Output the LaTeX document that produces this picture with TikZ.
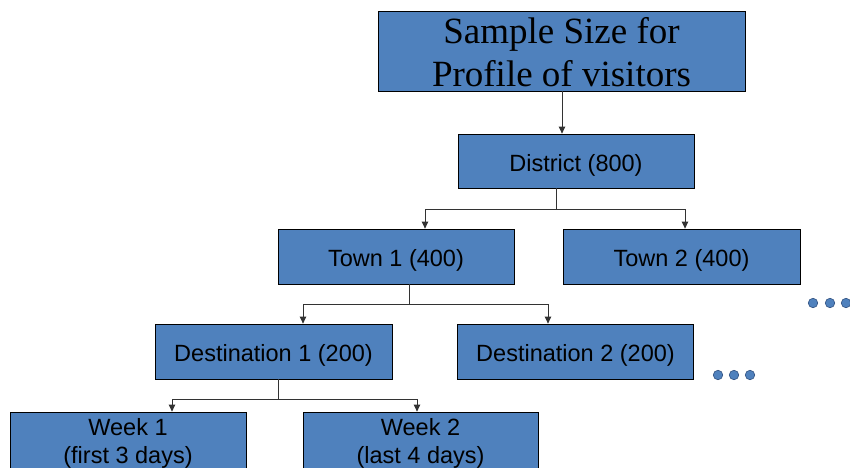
\documentclass[tikz,border=0pt]{standalone}
\usepackage{fontspec}
\setmainfont{Liberation Sans}
\newfontfamily\titlefont{Liberation Serif}
\usetikzlibrary{arrows.meta}
\definecolor{boxblue}{HTML}{4F81BD}
\definecolor{dotedge}{HTML}{2F4F7F}
\tikzset{
  box/.style={draw=black, line width=0.8pt, fill=boxblue, inner sep=0pt,
    align=center, font=\fontsize{23.5}{27.5}\selectfont},
  onebox/.style={box, text height=20pt, text depth=0pt},
  titlebox/.style={box, font=\titlefont\fontsize{37}{43}\selectfont},
  conn/.style={draw=black!80, line width=0.9pt},
  arr/.style={conn, -{Triangle[length=7pt,width=6.5pt]}},
  dot/.style={circle, fill=boxblue, draw=dotedge, line width=0.6pt, minimum size=9.5pt, inner sep=0pt},
  wtext/.style={anchor=base, font=\fontsize{23.5}{27.5}\selectfont}
}
\begin{document}
\begin{tikzpicture}[x=1pt,y=-1pt]
\useasboundingbox (0,0) rectangle (850,467);
\clip (0,0) rectangle (850,467);
\node[titlebox, minimum width=367pt, minimum height=80pt] (title) at (561.5,51) {\rule{0pt}{29pt}Sample Size for\\Profile of visitors};
\node[onebox, minimum width=236pt, minimum height=54pt] (district) at (576,161) {District (800)};
\node[onebox, minimum width=236pt, minimum height=55pt] (town1) at (396,256.5) {Town 1 (400)};
\node[onebox, minimum width=237pt, minimum height=55pt] (town2) at (681.5,256.5) {Town 2 (400)};
\node[onebox, minimum width=237pt, minimum height=55pt] (dest1) at (273.5,351.5) {Destination 1 (200)};
\node[onebox, minimum width=236pt, minimum height=55pt] (dest2) at (575.5,351.5) {Destination 2 (200)};
\node[box, minimum width=236pt, minimum height=70pt] (week1) at (128,447) {};
\node[box, minimum width=235pt, minimum height=70pt] (week2) at (420.5,447) {};
\node[wtext] (w1a) at (128,435) {Week 1};
\node[wtext] (w1b) at (128,463) {(first 3 days)};
\node[wtext] (w2a) at (420.5,435) {Week 2};
\node[wtext] (w2b) at (420.5,463) {(last 4 days)};
% junctions
\coordinate (j1) at (556,209);
\coordinate (j2) at (409,304);
\coordinate (j3) at (278,399);
\draw[arr] (title.south -| 562,0) -- (district.north -| 562,0);
\draw[conn] (district.south -| j1) -- (j1);
\draw[arr] (j1) -| (town1.north -| 425,0);
\draw[arr] (j1) -| (town2.north -| 685,0);
\draw[conn] (town1.south -| j2) -- (j2);
\draw[arr] (j2) -| (dest1.north -| 303,0);
\draw[arr] (j2) -| (dest2.north -| 548,0);
\draw[conn] (dest1.south -| j3) -- (j3);
\draw[arr] (j3) -| (week1.north -| 172,0);
\draw[arr] (j3) -| (week2.north -| 417,0);
% ellipses
\node[dot] (d1) at (813,303) {};
\node[dot] (d2) at (830,303) {};
\node[dot] (d3) at (846,303) {};
\node[dot] (e1) at (718,375) {};
\node[dot] (e2) at (734,375) {};
\node[dot] (e3) at (750,375) {};
\end{tikzpicture}
\end{document}
